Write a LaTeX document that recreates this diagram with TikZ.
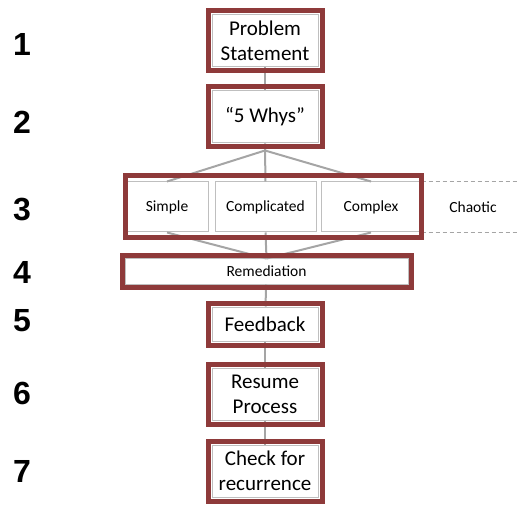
\documentclass[tikz,border=0pt]{standalone}
\usepackage{fontspec}
\setmainfont{Carlito}
\newfontfamily\numfont{Liberation Sans}
\usetikzlibrary{fit}
\definecolor{boxred}{RGB}{142,58,58}
\definecolor{linegray}{RGB}{165,165,165}

\begin{document}
\begin{tikzpicture}[x=1pt,y=1pt,
    box/.style={draw=gray!50, line width=1pt, fill=white, inner sep=0pt,
      align=center, font=\fontsize{21}{25}\selectfont,
      minimum width=106pt, minimum height=52pt},
    cellbox/.style={box, font=\fontsize{15.5}{18}\selectfont, minimum height=50pt},
    redframe/.style={draw=boxred, line width=5pt, inner sep=3.5pt},
    link/.style={draw=linegray, line width=2pt},
    dashline/.style={draw=linegray, line width=1pt, dash pattern=on 4pt off 3pt},
    num/.style={font=\numfont\bfseries\fontsize{32}{32}\selectfont}]
  \useasboundingbox (0,0) rectangle (518,506);

  % steps
  \node[box] (ps)  at (265,465) {Problem\\Statement};
  \node[box] (why) at (265,389) {“5 Whys”};
  \node[cellbox, minimum width=82pt]  (simple)  at (167,299)   {Simple};
  \node[cellbox, minimum width=101pt] (complic) at (265.5,299) {Complicated};
  \node[cellbox, minimum width=100pt] (complex) at (371,299)   {Complex};
  \node[font=\fontsize{15.5}{18}\selectfont] (chaotic) at (473,299) {Chaotic};
  \node[box, font=\fontsize{15.5}{18}\selectfont, minimum width=283pt,
        minimum height=25pt] (rem) at (266.5,234.5) {Remediation};
  \node[box, minimum height=34pt] (fb)  at (265,182) {Feedback};
  \node[box] (res) at (265,112) {Resume\\Process};
  \node[box] (chk) at (265,35)  {Check for\\recurrence};

  % step numbers
  \foreach \n/\y in {1/462, 2/384, 3/296, 4/234, 5/185, 6/113, 7/35}
    \node[num] (num\n) at (22,\y) {\n};

  % connectors
  \coordinate (fork) at ([yshift=-7pt]why.south);
  \coordinate (edge) at (518,0);
  \draw[link] (ps) -- (why);
  \draw[link] (why.south) -- (fork) -- (simple.north);
  \draw[link] (fork) -- (complic.north);
  \draw[link] (fork) -- (complex.north);
  \draw[link] (simple.south) -- (rem.north);
  \draw[link] (complic.south) -- (rem.north);
  \draw[link] (complex.south) -- (rem.north);
  \draw[link] (rem) -- (fb);
  \draw[link] (fb) -- (res);
  \draw[link] (res) -- (chk);
  \draw[dashline] (complex.north east) -- (complex.north east -| edge);
  \draw[dashline] (complex.south east) -- (complex.south east -| edge);

  % red frames
  \foreach \b in {ps, why, fb, res, chk}
    \node[redframe, fit=(\b)] {};
  \node[redframe, inner xsep=0pt, inner ysep=5.5pt, fit=(simple)(complex)] (row) {};
  \node[redframe, inner sep=2.5pt, fit=(rem)] {};
\end{tikzpicture}
\end{document}
